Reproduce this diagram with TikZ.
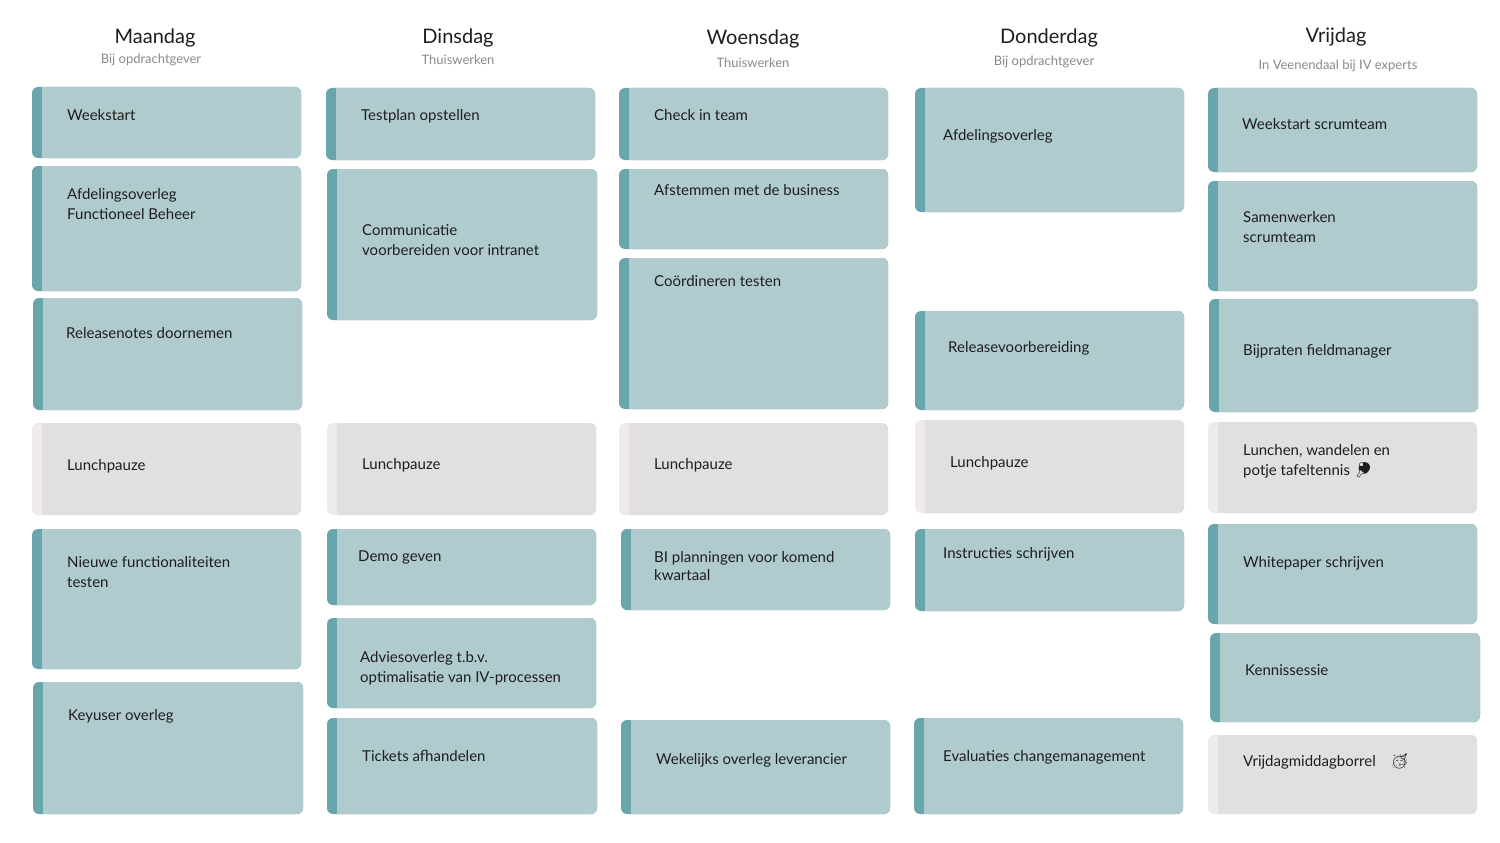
\documentclass[tikz,border=0pt]{standalone}
\usepackage{fontspec}
\setmainfont{Lato}
\newfontfamily\emojifont{Noto Emoji}
\definecolor{bluebody}{HTML}{B0CBCE}
\definecolor{bluestripe}{HTML}{68A5AC}
\definecolor{greybody}{HTML}{E2E0DF}
\definecolor{greystripe}{HTML}{EEEBEA}
\definecolor{txt}{HTML}{1E1E1E}
\definecolor{subtxt}{HTML}{8A8A8A}
\tikzset{
  cardtext/.style={anchor=north west,inner sep=0pt,align=left,text=txt,font=\fontsize{15}{20}\selectfont},
  dayhead/.style={inner sep=0pt,text=txt,font=\fontsize{20}{24}\selectfont},
  daysub/.style={inner sep=0pt,text=subtxt,font=\fontsize{13}{16}\selectfont}
}
\newcommand\card[9]{%
  \fill[#5stripe,rounded corners=6] (#1,#2) rectangle (#3,#4);
  \begin{scope}\clip (#1+10,#2) rectangle (#3,#4);
  \fill[#5body,rounded corners=6] (#1,#2) rectangle (#3,#4);\end{scope}
  \node[cardtext] (#9) at (#6,#7-9) {#8};}
\begin{document}
\begin{tikzpicture}[x=1pt,y=-1pt]
\useasboundingbox[fill=white] (0,0) rectangle (1500,843);
% headers
\node[dayhead] (h1) at (155,38) {Maandag};
\node[daysub] (s1) at (151,60) {Bij opdrachtgever};
\node[dayhead] (h2) at (458,38) {Dinsdag};
\node[daysub] (s2) at (458,60) {Thuiswerken};
\node[dayhead] (h3) at (753,39) {Woensdag};
\node[daysub] (s3) at (753,63) {Thuiswerken};
\node[dayhead] (h4) at (1049,38) {Donderdag};
\node[daysub] (s4) at (1044,62) {Bij opdrachtgever};
\node[dayhead] (h5) at (1336,37) {Vrijdag};
\node[daysub] (s5) at (1338,66) {In Veenendaal bij IV experts};
% Maandag
\card{32}{87}{301}{158}{blue}{67}{118}{Weekstart}{m1}
\card{32}{166}{301}{291}{blue}{67}{197}{Afdelingsoverleg\\Functioneel Beheer}{m2}
\card{33}{298}{302}{410}{blue}{66}{336}{Releasenotes doornemen}{m3}
\card{32}{423}{301}{515}{grey}{67}{468}{Lunchpauze}{m4}
\card{32}{529}{301}{669}{blue}{67}{565}{Nieuwe functionaliteiten\\testen}{m5}
\card{33}{682}{303}{814}{blue}{68}{718}{Keyuser overleg}{m6}
% Dinsdag
\card{326}{88}{595}{160}{blue}{361}{118}{Testplan opstellen}{d1}
\card{327}{169}{597}{320}{blue}{362}{233}{Communicatie\\voorbereiden voor intranet}{d2}
\card{327}{423}{596}{515}{grey}{362}{467}{Lunchpauze}{d3}
\card{327}{529}{596}{605}{blue}{358}{560}{Demo geven}{d4}
\card{327}{618}{596}{708}{blue}{360}{660}{Adviesoverleg t.b.v.\\optimalisatie van IV-processen}{d5}
\card{327}{718}{597}{814}{blue}{362}{759}{Tickets afhandelen}{d6}
% Woensdag
\card{619}{88}{888}{160}{blue}{654}{118}{Check in team}{w1}
\card{619}{169}{888}{249}{blue}{654}{193}{Afstemmen met de business}{w2}
\card{619}{258}{888}{409}{blue}{654}{284}{Coördineren testen}{w3}
\card{619}{423}{888}{515}{grey}{654}{467}{Lunchpauze}{w4}
\card{621}{529}{890}{610}{blue}{654}{560}{BI planningen voor komend\\[-2pt]kwartaal}{w5}
\card{621}{720}{890}{814}{blue}{656}{762}{Wekelijks overleg leverancier}{w6}
% Donderdag
\card{915}{88}{1184}{212}{blue}{943}{138}{Afdelingsoverleg}{o1}
\card{915}{311}{1184}{410}{blue}{948}{350}{Releasevoorbereiding}{o2}
\card{915}{420}{1184}{513}{grey}{950}{465}{Lunchpauze}{o3}
\card{915}{529}{1184}{611}{blue}{943}{556}{Instructies schrijven}{o4}
\card{914}{718}{1183}{814}{blue}{943}{759}{Evaluaties changemanagement}{o5}
% Vrijdag
\card{1208}{88}{1477}{172}{blue}{1242}{127}{Weekstart scrumteam}{v1}
\card{1208}{181}{1477}{291}{blue}{1243}{220}{Samenwerken\\scrumteam}{v2}
\card{1209}{299}{1478}{412}{blue}{1243}{353}{Bijpraten fieldmanager}{v3}
\card{1208}{422}{1477}{513}{grey}{1243}{453}{Lunchen, wandelen en\\potje tafeltennis {\emojifont 🏓}}{v4}
\card{1208}{524}{1477}{624}{blue}{1243}{565}{Whitepaper schrijven}{v5}
\card{1210}{633}{1480}{722}{blue}{1245}{673}{Kennissessie}{v6}
\card{1208}{735}{1477}{814}{grey}{1243}{763}{Vrijdagmiddagborrel\hspace{14pt}{\emojifont 🥳}}{v7}
\end{tikzpicture}
\end{document}
